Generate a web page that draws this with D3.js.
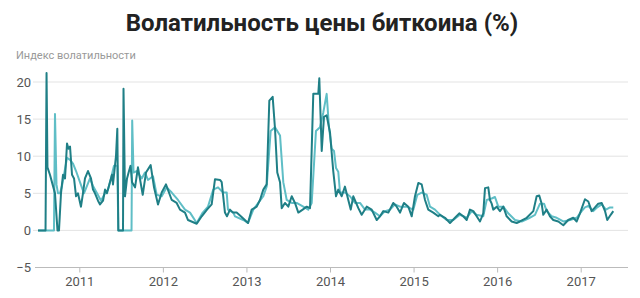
<!DOCTYPE html>
<html>
<head>
<meta charset="utf-8">
<script src="https://cdn.jsdelivr.net/npm/d3@7"></script>
<style>
  body { margin: 0; background: #fff; }
  svg { font-family: Roboto, "Noto Sans", sans-serif; }
</style>
</head>
<body>
<div id="chart"></div>
<script>
// data: time as decimal year, volatility in %
const darkYears = [2010.506,2010.596,2010.608,2010.619,2010.649,2010.685,2010.709,2010.739,2010.757,2010.781,2010.805,2010.829,2010.853,2010.871,2010.889,2010.913,2010.937,2010.961,2010.984,2011.020,2011.044,2011.068,2011.104,2011.140,2011.164,2011.188,2011.224,2011.248,2011.284,2011.308,2011.331,2011.367,2011.391,2011.403,2011.439,2011.455,2011.467,2011.523,2011.529,2011.547,2011.571,2011.595,2011.613,2011.631,2011.667,2011.702,2011.759,2011.798,2011.854,2011.894,2011.942,2011.986,2012.037,2012.106,2012.165,2012.205,2012.265,2012.301,2012.405,2012.465,2012.528,2012.584,2012.624,2012.684,2012.704,2012.743,2012.767,2012.803,2012.839,2012.883,2012.943,2013.019,2013.063,2013.123,2013.162,2013.202,2013.242,2013.274,2013.314,2013.342,2013.369,2013.402,2013.422,2013.461,2013.501,2013.542,2013.581,2013.621,2013.673,2013.721,2013.761,2013.800,2013.860,2013.872,2013.901,2013.928,2013.960,2014.000,2014.020,2014.039,2014.072,2014.099,2014.140,2014.179,2014.219,2014.248,2014.279,2014.339,2014.379,2014.439,2014.499,2014.559,2014.598,2014.638,2014.698,2014.757,2014.798,2014.838,2014.885,2014.937,2014.978,2015.017,2015.057,2015.097,2015.137,2015.176,2015.236,2015.296,2015.316,2015.376,2015.436,2015.496,2015.547,2015.595,2015.636,2015.675,2015.715,2015.755,2015.795,2015.834,2015.855,2015.894,2015.914,2015.935,2015.954,2015.995,2016.034,2016.074,2016.114,2016.174,2016.234,2016.273,2016.354,2016.433,2016.473,2016.504,2016.533,2016.552,2016.593,2016.632,2016.672,2016.732,2016.792,2016.851,2016.911,2016.952,2016.991,2017.051,2017.091,2017.131,2017.171,2017.210,2017.251,2017.291,2017.318,2017.359,2017.390];
const darkValues = [0,0,21.2,8.5,7.5,6,5,0,0,5,7.5,7,11.7,11,11.3,7.5,7,4.6,5,3.2,5,7,8,7,5.5,5,4,3.5,4,5.5,5,6.5,7.5,6.2,10,13.7,0,0,19.1,4.6,7,8,8.7,6.5,5.8,8.5,4.8,7.8,8.8,5.8,3.5,5.1,6.2,4.1,3.7,2.8,2.4,1.4,0.9,1.9,2.8,3.5,6.9,6.8,6.5,2.4,1.9,2.8,2.4,2.4,1.8,1.0,2.8,3.2,4.1,5.5,6.2,17.5,18.0,13.7,7.8,6.5,3.0,3.7,3.2,4.6,3.7,2.4,2.8,3.2,3.0,18.4,18.4,20.5,10.7,15.3,15.5,13.2,10.5,8,4.6,5.5,4.6,5.9,4.1,2.8,4.6,3.0,2.1,3.2,2.8,1.4,1.9,2.6,2.4,3.7,3.2,2.4,3.7,3.2,1.9,4.6,6.4,6.2,4.1,2.8,2.4,1.9,2.1,1.7,1.0,1.7,2.3,1.9,1.4,2.8,2.6,1.9,1.2,2.3,5.7,5.8,4.1,3.6,2.8,3.2,2.6,3.2,1.9,1.2,1.0,1.2,1.7,2.6,4.6,4.7,3.6,2.1,2.8,1.9,1.4,1.2,0.7,1.4,1.7,1.2,2.3,4.2,3.9,2.6,3.1,3.6,3.7,2.6,1.4,2.1,2.6];

const lightYears = [2010.506,2010.697,2010.709,2010.727,2010.745,2010.769,2010.793,2010.817,2010.853,2010.889,2010.925,2010.961,2011.008,2011.056,2011.092,2011.128,2011.164,2011.212,2011.260,2011.308,2011.343,2011.379,2011.415,2011.455,2011.467,2011.625,2011.633,2011.649,2011.687,2011.747,2011.786,2011.822,2011.882,2011.926,2011.986,2012.046,2012.106,2012.181,2012.265,2012.325,2012.405,2012.477,2012.540,2012.603,2012.660,2012.720,2012.764,2012.779,2012.843,2012.863,2012.962,2013.019,2013.082,2013.142,2013.202,2013.242,2013.290,2013.342,2013.402,2013.441,2013.482,2013.542,2013.601,2013.680,2013.740,2013.781,2013.832,2013.880,2013.920,2013.960,2013.988,2014.020,2014.048,2014.072,2014.099,2014.120,2014.179,2014.239,2014.299,2014.359,2014.419,2014.479,2014.538,2014.598,2014.658,2014.718,2014.778,2014.838,2014.918,2014.997,2015.045,2015.097,2015.157,2015.197,2015.256,2015.316,2015.396,2015.475,2015.555,2015.636,2015.696,2015.755,2015.834,2015.875,2015.935,2015.974,2016.014,2016.074,2016.133,2016.214,2016.294,2016.373,2016.453,2016.513,2016.561,2016.593,2016.653,2016.713,2016.792,2016.872,2016.952,2017.012,2017.051,2017.091,2017.151,2017.198,2017.251,2017.303,2017.350,2017.390];
const lightValues = [0,0,15.7,6.2,5,5,6,7.5,9.8,9.5,9,8,6.5,5,6,7,6,5,4,5,5.5,7,8.7,8.7,0,0,14.8,7.8,8.0,7,7.8,6.8,7.3,4.8,4.6,5.8,5.1,4.1,2.8,2.4,1.0,2.4,3.2,5.5,5.8,5.1,5.1,2.8,2.4,1.9,1.4,1.0,2.8,3.7,4.6,5.9,13.4,13.9,12.8,6.5,4.1,3.7,3.7,3.2,2.8,3.7,13.4,13.9,15.9,18.4,13.9,11.0,10.7,8.4,7.9,5.1,5.1,4.6,3.7,3.7,2.8,2.8,2.4,1.9,2.6,2.8,3.5,3.2,3.2,2.8,4.8,5.1,4.8,3.2,2.8,2.1,1.4,1.4,2.1,1.7,2.6,2.1,1.9,4.1,4.3,4.5,3.2,3.2,2.3,1.4,1.2,1.6,2.1,3.6,3.6,2.6,1.9,1.7,1.2,1.4,1.7,2.6,3.1,3.3,2.6,3.1,3.5,2.8,3.1,3.1];

const yTicks = [-5, 0, 5, 10, 15, 20];
const xTicks = [2011, 2012, 2013, 2014, 2015, 2016, 2017];

const title = "Волатильность цены биткоина (%)";
const yLabel = "Индекс волатильности";

const width = 640, height = 298;

const x = d3.scaleLinear().domain([2011, 2017]).range([79.3, 580.7]);
const y = d3.scaleLinear().domain([-5, 20]).range([267.5, 82]);

const svg = d3.select("#chart").append("svg")
  .attr("width", width)
  .attr("height", height);

svg.append("text")
  .attr("x", 322)
  .attr("y", 31)
  .attr("text-anchor", "middle")
  .attr("font-size", "24px")
  .attr("font-weight", "bold")
  .attr("fill", "#222")
  .text(title);

svg.append("text")
  .attr("x", 16)
  .attr("y", 59)
  .attr("font-size", "11px")
  .attr("fill", "#999")
  .text(yLabel);

// horizontal grid + y labels
const yAxis = d3.axisLeft(y).tickValues(yTicks).tickSize(0).tickPadding(0);
const gy = svg.append("g")
  .attr("transform", "translate(31,0)")
  .call(yAxis);
gy.select(".domain").remove();
gy.selectAll("text")
  .attr("font-size", "13px")
  .attr("fill", "#555")
  .attr("font-family", "Roboto, sans-serif");

svg.append("g")
  .selectAll("line")
  .data(yTicks.filter(d => d !== -5))
  .enter().append("line")
  .attr("x1", 33)
  .attr("x2", 628)
  .attr("y1", d => y(d))
  .attr("y2", d => y(d))
  .attr("stroke", "#e3e3e3")
  .attr("stroke-width", 1);

// x axis on -5 line
const xAxis = d3.axisBottom(x).tickValues(xTicks).tickFormat(d3.format("d")).tickSize(5).tickPadding(4);
const gx = svg.append("g")
  .attr("transform", `translate(0,${y(-5)})`)
  .call(xAxis);
gx.select(".domain")
  .attr("d", `M35,0H628`)
  .attr("stroke", "#bbb");
gx.selectAll(".tick line").attr("stroke", "#bbb");
gx.selectAll("text")
  .attr("font-size", "13px")
  .attr("fill", "#555")
  .attr("font-family", "Roboto, sans-serif");

const line = d3.line()
  .x(d => x(d[0]))
  .y(d => y(d[1]));

svg.append("path")
  .datum(d3.zip(lightYears, lightValues))
  .attr("d", line)
  .attr("fill", "none")
  .attr("stroke", "#5fbec6")
  .attr("stroke-width", 2)
  .attr("stroke-linejoin", "round");

svg.append("path")
  .datum(d3.zip(darkYears, darkValues))
  .attr("d", line)
  .attr("fill", "none")
  .attr("stroke", "#1f7f86")
  .attr("stroke-width", 2)
  .attr("stroke-linejoin", "round");
</script>
</body>
</html>
